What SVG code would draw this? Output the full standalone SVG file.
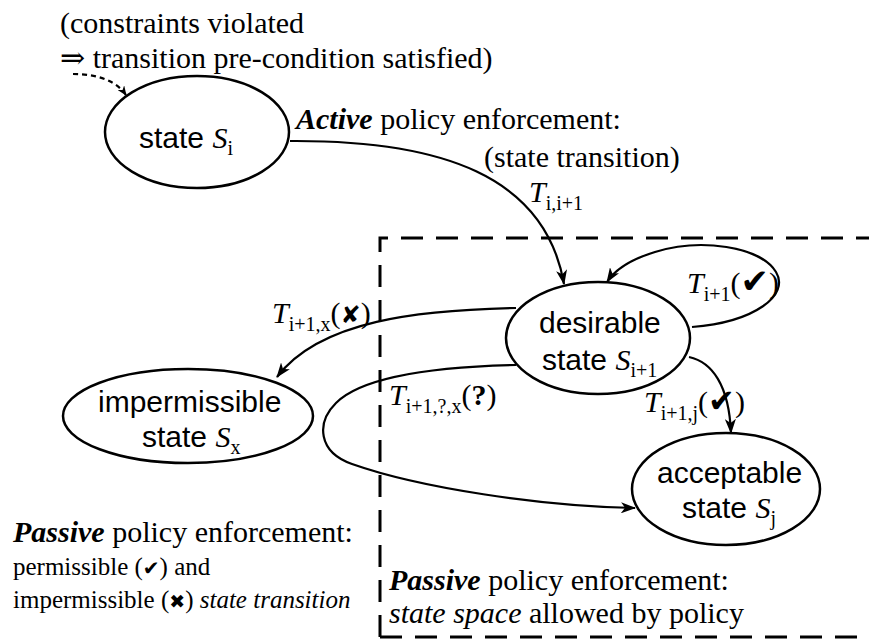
<svg xmlns="http://www.w3.org/2000/svg" width="869" height="640" viewBox="0 0 869 640">
<style>
.tm{font-family:"Liberation Serif","Times New Roman",serif;font-size:30px;fill:#000}
.sf{font-family:"Liberation Sans",Arial,sans-serif;font-size:30px;fill:#000}
.it{font-style:italic}
.bi{font-weight:bold;font-style:italic}
.b{font-weight:bold}
.sub{font-family:"Liberation Serif","Times New Roman",serif;font-size:20px;font-style:normal}
.sm{font-size:25px}
.sym{font-family:"DejaVu Sans",sans-serif;font-style:normal}
.node ellipse{fill:none;stroke:#000;stroke-width:2.5}
.edge{fill:none;stroke:#000;stroke-width:2.2}
.box{fill:none;stroke:#000;stroke-width:3;stroke-dasharray:22 13}
</style>
<defs>
<marker id="ah" markerWidth="15" markerHeight="11" refX="14" refY="5.5" orient="auto" markerUnits="userSpaceOnUse">
<path d="M0,0 L15,5.5 L0,11 L4,5.5 z" fill="#000"/>
</marker>
<marker id="ahs" markerWidth="10" markerHeight="8" refX="9" refY="4" orient="auto" markerUnits="userSpaceOnUse">
<path d="M0,0 L10,4 L0,8 L3,4 z" fill="#000"/>
</marker>
</defs>

<g id="scope">
<path class="box" d="M380,637 V238 H869"/>
<path class="box" d="M380,637 H869"/>
</g>

<g id="node-si" class="node">
<ellipse cx="197" cy="132" rx="92" ry="56"/>
<text class="sf" x="139" y="148">state <tspan class="tm it">S</tspan><tspan class="sub" dy="7">i</tspan></text>
</g>

<g id="node-desirable" class="node">
<ellipse cx="598" cy="338" rx="92" ry="56"/>
<text class="sf" x="539" y="333">desirable</text>
<text class="sf" x="542" y="370">state <tspan class="tm it">S</tspan><tspan class="sub" dy="7">i+1</tspan></text>
</g>

<g id="node-impermissible" class="node">
<ellipse cx="188" cy="416" rx="125" ry="47"/>
<text class="sf" x="98" y="412">impermissible</text>
<text class="sf" x="142" y="447">state <tspan class="tm it">S</tspan><tspan class="sub" dy="7">x</tspan></text>
</g>

<g id="node-acceptable" class="node">
<ellipse cx="726" cy="489" rx="94" ry="56"/>
<text class="sf" x="657" y="483">acceptable</text>
<text class="sf" x="682" y="518">state <tspan class="tm it">S</tspan><tspan class="sub" dy="7">j</tspan></text>
</g>

<g id="connectors">
<path class="edge" d="M73,74 C100,74 117,82 126,95" stroke-dasharray="5 4" stroke-width="1.8" marker-end="url(#ahs)"/>
<path class="edge" d="M290,141 C440,140 545,175 564,284" marker-end="url(#ah)"/>
<path class="edge" d="M692,327 C755,322 790,295 776,272 C760,246 700,238 655,252 C632,259 616,268 607,282" marker-end="url(#ah)"/>
<path class="edge" d="M516,308 C420,310 320,320 277,377" marker-end="url(#ah)"/>
<path class="edge" d="M516,365 C430,367 362,377 336,403 C316,423 318,452 352,464 C420,488 540,506 635,508" marker-end="url(#ah)"/>
<path class="edge" d="M689,357 C712,362 729,385 731,433" marker-end="url(#ah)"/>
</g>

<g id="labels">
<text class="tm" x="60" y="33">(constraints violated</text>
<text class="tm" x="60" y="68"><tspan style="font-family:'DejaVu Serif',serif;font-size:30px">⇒</tspan> transition pre-condition satisfied)</text>
<text class="tm" x="296" y="129"><tspan class="bi">Active</tspan> policy enforcement:</text>
<text class="tm" x="484" y="167">(state transition)</text>
<text class="tm" x="529" y="202"><tspan class="it">T</tspan><tspan class="sub" dy="8">i,i+1</tspan></text>
<text class="tm" x="687" y="293"><tspan class="it">T</tspan><tspan class="sub" dy="8">i+1</tspan><tspan dy="-8">(</tspan><tspan class="sym" font-size="34">✔</tspan>)</text>
<text class="tm" x="272" y="323"><tspan class="it">T</tspan><tspan class="sub" dy="8">i+1,x</tspan><tspan dy="-8">(</tspan><tspan class="sym" font-size="24">✘</tspan>)</text>
<text class="tm" x="389" y="405"><tspan class="it">T</tspan><tspan class="sub" dy="8">i+1,?,x</tspan><tspan dy="-8">(</tspan><tspan class="b">?</tspan>)</text>
<text class="tm" x="644" y="412"><tspan class="it">T</tspan><tspan class="sub" dy="8">i+1,j</tspan><tspan dy="-8">(</tspan><tspan class="sym" font-size="32">✔</tspan>)</text>
<text class="tm" x="13" y="542"><tspan class="bi">Passive</tspan> policy enforcement:</text>
<text class="tm sm" x="13" y="575">permissible (<tspan class="sym" font-size="20">✔</tspan>) and</text>
<text class="tm sm" x="13" y="608">impermissible (<tspan class="sym" font-size="19">✖</tspan>) <tspan class="it">state transition</tspan></text>
<text class="tm" x="389" y="590"><tspan class="bi">Passive</tspan> policy enforcement:</text>
<text class="tm" x="389" y="623"><tspan class="it">state space</tspan> allowed by policy</text>
</g>
</svg>
